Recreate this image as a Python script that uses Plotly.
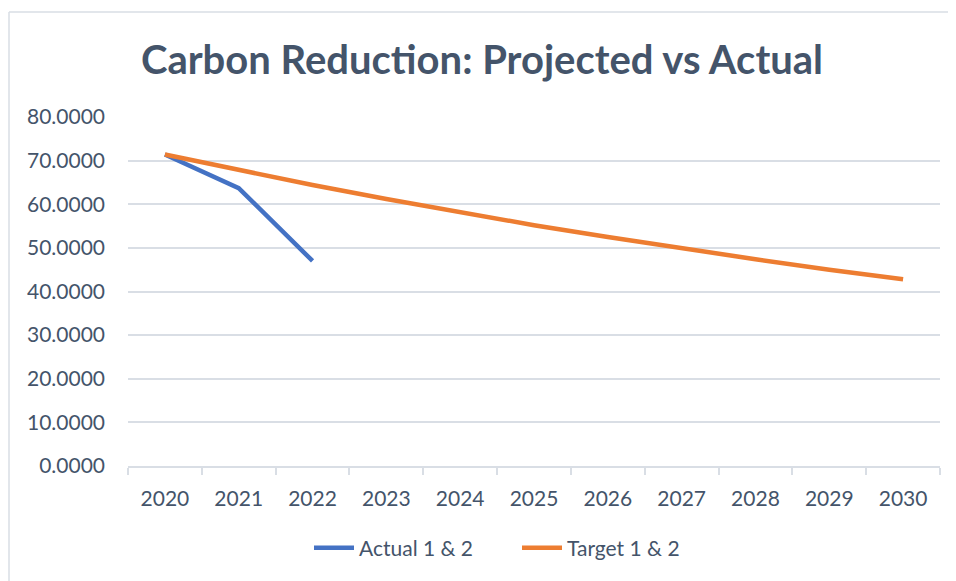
import plotly.graph_objects as go

years = ["2020", "2021", "2022", "2023", "2024", "2025", "2026", "2027", "2028", "2029", "2030"]
actual_years = ["2020", "2021", "2022"]
actual_values = [71.4, 63.7, 47.0]
target_values = [71.4, 67.8, 64.4, 61.2, 58.2, 55.2, 52.5, 49.9, 47.4, 45.0, 42.8]
y_ticks = [0, 10, 20, 30, 40, 50, 60, 70, 80]

TEXT = "#44546A"
GRID = "#D9DEE5"
FONT = "Lato"

fig = go.Figure()
fig.add_trace(go.Scatter(x=actual_years, y=actual_values, mode="lines", name="Actual 1 & 2",
                         line=dict(color="#4472C4", width=4.5)))
fig.add_trace(go.Scatter(x=years, y=target_values, mode="lines", name="Target 1 & 2",
                         line=dict(color="#ED7D31", width=4.5)))

# page is drawn with an 8px body offset
W, H = 948, 573
L, T = 120, 109
R = W - 932
B = H - 458
pw, ph = W - L - R, H - T - B

fig.update_layout(
    width=W, height=H,
    margin=dict(l=L, r=R, t=T, b=B),
    paper_bgcolor="white", plot_bgcolor="white",
    font=dict(family=FONT, color=TEXT, size=21),
    title=dict(text="<b>Carbon Reduction: Projected vs Actual</b>", x=0.5, xanchor="center",
               xref="container",
               y=1 - 52 / H, yanchor="middle", font=dict(family=FONT, size=40, color=TEXT)),
    showlegend=True,
    legend=dict(orientation="h", x=(301 - L) / pw, xanchor="left", y=(H - B - 540) / ph, yanchor="middle",
                font=dict(size=21, color=TEXT), itemwidth=40, traceorder="normal",
                entrywidth=153, entrywidthmode="pixels"),
    xaxis=dict(type="category", categoryorder="array", categoryarray=years, range=[-0.5, 10.5],
               showgrid=False, showline=True, linecolor=GRID, linewidth=1.5,
               ticks="outside", tickson="boundaries", ticklen=7, tickcolor=GRID, tickwidth=1.5,
               ticklabelstandoff=13, tickfont=dict(size=21, color=TEXT), zeroline=False),
    yaxis=dict(range=[0, 80], tickvals=y_ticks, tickformat=".4f", showgrid=True,
               gridcolor=GRID, gridwidth=1.5, showline=False, zeroline=False,
               ticks="", ticklabelstandoff=22, tickfont=dict(size=21, color=TEXT)),
)

# chart border (top and left edges visible in the reference)
fig.add_shape(type="line", xref="paper", yref="paper",
              x0=(1 - L) / pw, x1=(W - L) / pw, y0=(H - B - 4) / ph, y1=(H - B - 4) / ph,
              line=dict(color=GRID, width=1.5))
fig.add_shape(type="line", xref="paper", yref="paper",
              x0=(1 - L) / pw, x1=(1 - L) / pw, y0=(H - B - 4) / ph, y1=-B / ph,
              line=dict(color=GRID, width=1.5))

fig.write_html("out.html")
